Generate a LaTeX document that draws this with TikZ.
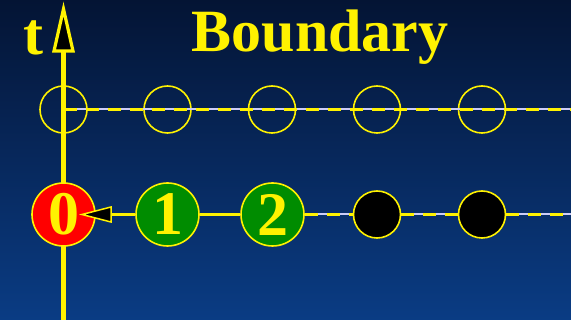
\documentclass[tikz,border=0pt]{standalone}
\usepackage{fontspec}
\setmainfont{Liberation Serif}
\begin{document}
\begin{tikzpicture}[x=1pt,y=-1pt,
  ring/.style={circle,draw=yellow,line width=1.6pt,minimum size=47pt,inner sep=0pt},
  bigring/.style={circle,draw=yellow,line width=1.6pt,minimum size=63pt,inner sep=0pt,
    text=yellow,font=\fontsize{62}{62}\selectfont\bfseries},
  dline/.style={draw=yellow,line width=2.6pt,dash pattern=on 13pt off 9pt},
  gline/.style={draw=black!15!blue!20!white,line width=2pt},
  sline/.style={draw=yellow,line width=2.6pt}]
\definecolor{bgtop}{RGB}{4,20,52}
\definecolor{bgbot}{RGB}{10,60,132}
\definecolor{cgreen}{RGB}{0,140,0}
\shade[top color=bgtop,bottom color=bgbot] (0,0) rectangle (571,320);
\useasboundingbox (0,0) rectangle (571,320);
% axis
\coordinate (axb) at (63.5,320);
\coordinate (axt) at (63.5,50);
\draw[yellow,line width=5pt] (axb) -- (axt);
\filldraw[fill=black,draw=yellow,line width=3.2pt,line join=miter] (63.5,9) -- (73,51) -- (54,51) -- cycle;
\node[text=yellow,font=\fontsize{60}{60}\selectfont\bfseries,anchor=base] (t) at (33,55) {t};
\node[text=yellow,font=\fontsize{60}{60}\selectfont\bfseries,anchor=base] (title) at (320,52) {Boundary};
% top row
\coordinate (tend) at (571,109.5);
\node[ring] (u0) at (63.5,109.5) {};
\node[ring] (u1) at (167.5,109.5) {};
\node[ring] (u2) at (272,109.5) {};
\node[ring] (u3) at (377,109.5) {};
\node[ring] (u4) at (482,109.5) {};
\draw[gline] (u0.center) -- (tend);
\draw[dline] (u0.center) -- (tend);
% bottom row
\coordinate (bend) at (571,214.5);
\node[bigring,fill=red] (b0) at (63.5,214.5) {0};
\node[bigring,fill=cgreen] (b1) at (167.5,214.5) {1};
\node[bigring,fill=cgreen] (b2) at (272.5,214.5) {2};
\node[ring,fill=black] (b3) at (377,214.5) {};
\node[ring,fill=black] (b4) at (482,214.5) {};
\draw[gline] (b2.east) -- (b3.west);
\draw[gline] (b3.east) -- (b4.west);
\draw[gline] (b4.east) -- (bend);
\draw[dline] (b2.east) -- (b3.west);
\draw[dline] (b3.east) -- (b4.west);
\draw[dline] (b4.east) -- (bend);
\draw[sline] (b1.west) -- (110,214.5);
\draw[sline] (b1.east) -- (b2.west);
\filldraw[fill=black,draw=yellow,line width=1.5pt,line join=miter] (82,214.5) -- (111,207) -- (111,222) -- cycle;
\end{tikzpicture}
\end{document}
